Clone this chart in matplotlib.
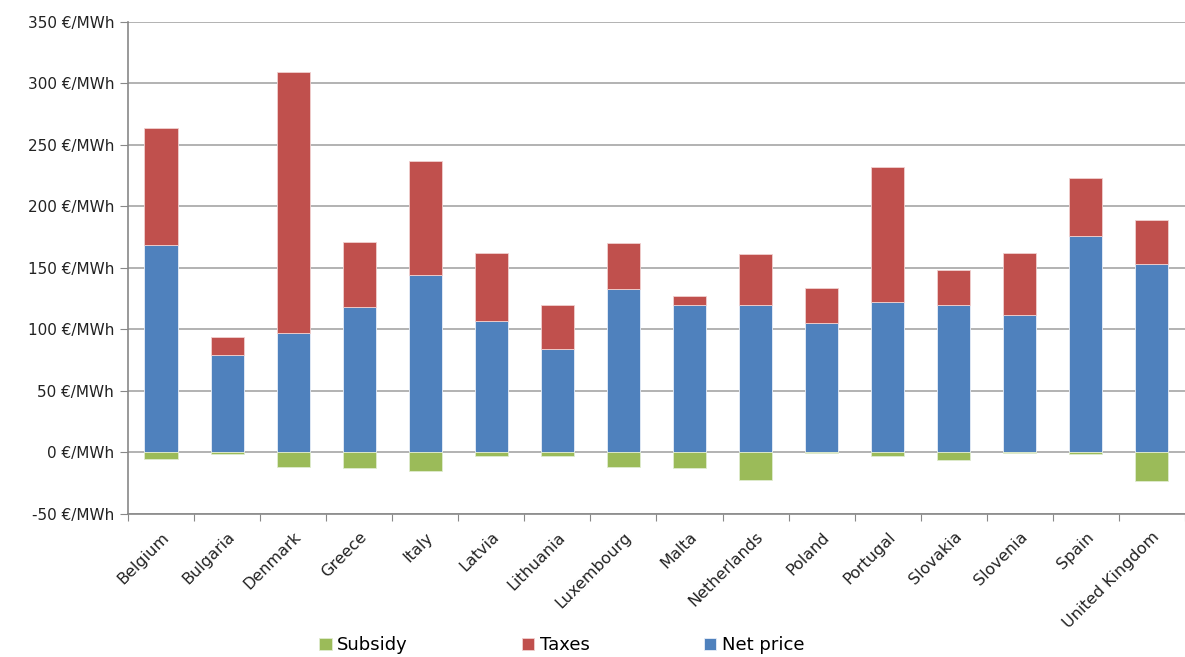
import matplotlib
matplotlib.use("Agg")
import matplotlib.pyplot as plt
import numpy as np

countries = ["Belgium", "Bulgaria", "Denmark", "Greece", "Italy", "Latvia", "Lithuania",
             "Luxembourg", "Malta", "Netherlands", "Poland", "Portugal", "Slovakia",
             "Slovenia", "Spain", "United Kingdom"]
net_price = [169, 79, 97, 118, 144, 107, 84, 133, 120, 120, 105, 122, 120, 112, 176, 153]
total = [264, 94, 309, 171, 237, 162, 120, 170, 127, 161, 134, 232, 148, 162, 223, 189]
taxes = [t - n for t, n in zip(total, net_price)]
subsidy = [-5, -1, -12, -13, -15, -2.5, -3, -12, -13, -22.5, -0.7, -3, -6.5, -0.5, -1, -23]
yticks = [-50, 0, 50, 100, 150, 200, 250, 300, 350]

plt.rcParams['font.family'] = ['DejaVu Sans']
fig = plt.figure(figsize=(11.85, 6.57), dpi=100)
ax = fig.add_axes([0.108, 0.2177, 0.892, 0.749])

x = np.arange(len(countries))
w = 0.5
ax.bar(x, net_price, w, color="#4F81BD", edgecolor="#e8eef8", linewidth=0.6, label="Net price", zorder=3)
ax.bar(x, taxes, w, bottom=net_price, color="#C0504D", edgecolor="#f0d0d0", linewidth=0.6, label="Taxes", zorder=3)
ax.bar(x, subsidy, w, color="#9BBB59", edgecolor="#e0ecd0", linewidth=0.6, label="Subsidy", zorder=3)

ax.set_xlim(-0.5, len(countries) - 0.5)
ax.set_ylim(-50, 350)
ax.set_yticks(yticks)
ax.set_yticklabels([f"{v} €/MWh" for v in yticks], fontsize=11, color="#222222")
ax.yaxis.grid(True, color="#a6a6a6", linewidth=1.2, zorder=0)
ax.set_axisbelow(True)

ax.set_xticks(np.arange(len(countries) + 1) - 0.5)
ax.set_xticklabels([])
ax.set_xticks(x, minor=True)
ax.set_xticklabels(countries, minor=True, rotation=45, ha="right", rotation_mode="anchor",
                   fontsize=11.5, color="#222222")
ax.tick_params(axis="x", which="minor", length=0, pad=11)
ax.tick_params(axis="x", which="major", length=5, color="#888888", direction="out")
ax.tick_params(axis="y", length=6, color="#888888", direction="out", pad=4)

for s in ["top", "right"]:
    ax.spines[s].set_visible(False)
for s in ["left", "bottom"]:
    ax.spines[s].set_color("#888888")
    ax.spines[s].set_linewidth(1.2)

handles, labels = ax.get_legend_handles_labels()
order = [2, 1, 0]
fig.legend([handles[i] for i in order], [labels[i] for i in order], loc="center",
           bbox_to_anchor=(0.474, 0.018), ncol=3, frameon=False, fontsize=13,
           handlelength=0.7, handleheight=0.7, handletextpad=0.3, columnspacing=6.3)

fig.savefig("out.png", dpi=100)
